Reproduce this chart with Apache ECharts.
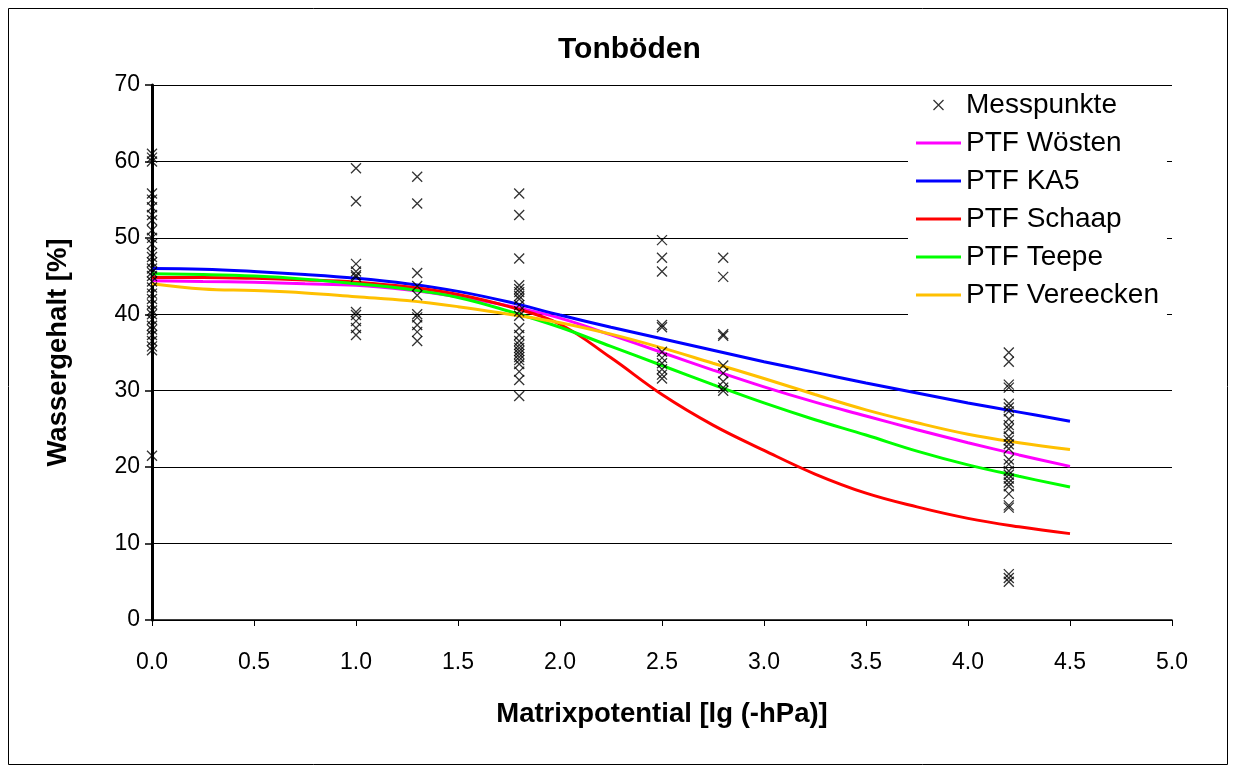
<!DOCTYPE html>
<html>
<head>
<meta charset="utf-8">
<script src="https://cdn.jsdelivr.net/npm/echarts@6/dist/echarts.min.js"></script>
<style>
  html, body { margin: 0; padding: 0; background: #fff; }
  #chart { width: 1236px; height: 773px; }
</style>
</head>
<body>
<div id="chart"></div>
<script>
// Messpunkte: x = Matrixpotential, y-Werte je Spalte
var messX = [0, 1.0, 1.3, 1.8, 2.5, 2.8, 4.2];
var messY = [
  [61.0, 60.5, 60.0, 55.8, 55.0, 54.0, 53.0, 52.3, 51.0, 50.0, 49.2, 48.0, 47.5, 46.8, 46.0, 45.5, 45.0, 44.3, 43.5, 42.7, 42.0, 41.3, 40.5, 40.0, 39.3, 38.5, 38.0, 37.3, 36.5, 35.8, 35.3, 21.5],
  [59.1, 54.8, 46.6, 45.6, 45.1, 44.9, 40.3, 39.9, 39.1, 38.2, 37.3],
  [58.0, 54.5, 45.4, 43.7, 42.5, 40.0, 39.6, 38.6, 37.7, 36.5],
  [55.8, 53.0, 47.3, 43.8, 43.3, 42.9, 42.4, 42.0, 41.2, 40.4, 39.8, 38.2, 37.3, 36.5, 36.0, 35.6, 35.2, 34.8, 34.4, 34.0, 33.5, 32.5, 31.4, 29.3],
  [49.7, 47.4, 45.6, 38.6, 38.3, 35.1, 34.3, 33.6, 32.8, 32.1, 31.6],
  [47.4, 44.9, 37.4, 37.2, 33.3, 32.3, 31.2, 30.4, 30.0],
  [35.0, 33.8, 30.8, 30.4, 28.3, 27.8, 27.3, 26.3, 25.5, 25.0, 24.0, 23.5, 23.0, 22.4, 21.0, 20.4, 19.5, 19.0, 18.5, 18.0, 17.5, 16.5, 15.0, 14.7, 6.0, 5.5, 5.0]
];

var kurveX    = [0, 0.25, 0.5, 0.75, 1.0, 1.25, 1.5, 1.75, 2.0, 2.25, 2.5, 2.75, 3.0, 3.25, 3.5, 3.75, 4.0, 4.25, 4.5];
var woesten   = [44.4, 44.3, 44.2, 44.0, 43.8, 43.2, 42.3, 41.1, 39.5, 37.3, 35.0, 32.7, 30.5, 28.5, 26.7, 24.9, 23.2, 21.6, 20.1];
var ka5       = [46.0, 45.9, 45.6, 45.2, 44.7, 44.0, 43.0, 41.6, 39.9, 38.3, 36.8, 35.3, 33.8, 32.4, 31.0, 29.7, 28.4, 27.2, 26.0];
var schaap    = [44.8, 44.8, 44.7, 44.5, 44.2, 43.6, 42.6, 41.0, 38.7, 34.3, 29.5, 25.5, 22.2, 19.1, 16.6, 14.8, 13.3, 12.2, 11.3];
var teepe     = [45.3, 45.2, 45.0, 44.6, 44.0, 43.3, 42.2, 40.4, 38.3, 35.8, 33.3, 30.8, 28.4, 26.2, 24.2, 22.1, 20.3, 18.8, 17.4];
var vereecken = [44.0, 43.3, 43.1, 42.8, 42.3, 41.8, 41.0, 40.0, 38.9, 37.4, 35.6, 33.6, 31.6, 29.5, 27.5, 25.8, 24.3, 23.2, 22.3];

var xTicks = ['0.0', '0.5', '1.0', '1.5', '2.0', '2.5', '3.0', '3.5', '4.0', '4.5', '5.0'];

var kreuz = 'path://M0,0L10,10M10,0L0,10';
// gleiches Kreuz, mit Rand, damit es in der Legende kleiner wird
var kreuzLegende = 'path://M-2,-2M12,12M0,0L10,10M10,0L0,10';
var strich = 'path://M0,0H45V3H0Z';

function paare(xs, ys) {
    var out = [];
    for (var i = 0; i < xs.length; i++) out.push([xs[i], ys[i]]);
    return out;
}

var punkte = [];
for (var i = 0; i < messX.length; i++) {
    for (var j = 0; j < messY[i].length; j++) {
        punkte.push([messX[i], messY[i][j]]);
    }
}

var kurven = [
    { name: 'PTF Wösten', data: woesten, color: '#FF00FF' },
    { name: 'PTF KA5', data: ka5, color: '#0000FF' },
    { name: 'PTF Schaap', data: schaap, color: '#FF0000' },
    { name: 'PTF Teepe', data: teepe, color: '#00FF00' },
    { name: 'PTF Vereecken', data: vereecken, color: '#FFC000' }
];

var series = [];
var legendData = [{ name: 'Messpunkte', icon: kreuzLegende, itemStyle: { color: 'none', borderColor: '#000', borderWidth: 1.3 } }];
kurven.forEach(function (k) {
    series.push({
        name: k.name,
        type: 'line',
        smooth: 0.4,
        symbol: 'none',
        data: paare(kurveX, k.data),
        lineStyle: { color: k.color, width: 3 },
        itemStyle: { color: k.color },
        z: 3
    });
    legendData.push({ name: k.name, icon: strich, itemStyle: { color: k.color, borderWidth: 0 } });
});
series.push({
    name: 'Messpunkte',
    type: 'scatter',
    symbol: kreuz,
    symbolSize: 10,
    data: punkte,
    itemStyle: { color: 'none', borderColor: '#000', borderWidth: 1.3 },
    z: 4
});

var chart = echarts.init(document.getElementById('chart'));
var font = 'Liberation Sans, Arial, sans-serif';

chart.setOption({
    animation: false,
    textStyle: { fontFamily: font },
    title: {
        text: 'Tonböden',
        left: 553,
        top: 30,
        textStyle: { fontSize: 30, fontWeight: 'bold', color: '#000', fontFamily: font }
    },
    graphic: [{
        type: 'rect',
        shape: { x: 8.5, y: 8.5, width: 1219, height: 756 },
        style: { fill: 'none', stroke: '#000', lineWidth: 1 },
        silent: true
    }],
    legend: {
        orient: 'vertical',
        left: 908,
        top: 87,
        width: 264,
        padding: [4, 8, 12, 8],
        backgroundColor: '#fff',
        itemWidth: 45,
        itemHeight: 14,
        itemGap: 10,
        textStyle: { fontSize: 28, color: '#000', fontFamily: font },
        data: legendData
    },
    grid: { left: 152, right: 64, top: 85, bottom: 153 },
    xAxis: {
        type: 'value',
        min: 0,
        max: 5,
        interval: 0.5,
        name: 'Matrixpotential [lg (-hPa)]',
        nameLocation: 'middle',
        nameGap: 80,
        nameTextStyle: { fontSize: 27.5, fontWeight: 'bold', color: '#000', fontFamily: font },
        axisLine: { lineStyle: { color: '#000', width: 1.5 } },
        axisTick: { show: true, length: 6, lineStyle: { color: '#000' } },
        axisLabel: {
            fontSize: 23, color: '#000', margin: 31,
            formatter: function (v) { return xTicks[Math.round(v * 2)]; }
        },
        splitLine: { show: false }
    },
    yAxis: {
        type: 'value',
        min: 0,
        max: 70,
        interval: 10,
        name: 'Wassergehalt [%]',
        nameLocation: 'middle',
        nameGap: 80,
        nameTextStyle: { fontSize: 27.5, fontWeight: 'bold', color: '#000', fontFamily: font },
        axisLine: { show: true, lineStyle: { color: '#000', width: 3 } },
        axisTick: { show: true, length: 7, lineStyle: { color: '#000', width: 1.5 } },
        axisLabel: { fontSize: 23, color: '#000', margin: 12 },
        splitLine: { show: true, lineStyle: { color: '#000', width: 1.2 } }
    },
    series: series
});
</script>
</body>
</html>
